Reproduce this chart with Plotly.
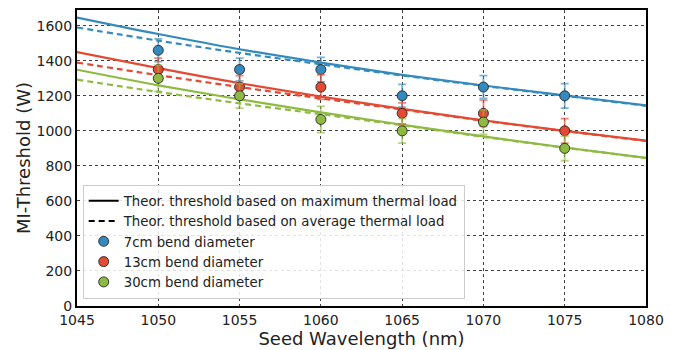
import plotly.graph_objects as go

# ---------------- data ----------------
wl_meas = [1050, 1055, 1060, 1065, 1070, 1075]
thr_7cm = [1460, 1350, 1350, 1200, 1250, 1200]
err_7cm = [65, 65, 70, 65, 65, 70]
thr_13cm = [1350, 1250, 1250, 1100, 1100, 1000]
err_13cm = [65, 65, 70, 60, 75, 70]
thr_30cm = [1300, 1200, 1065, 1000, 1050, 900]
err_30cm = [75, 70, 75, 70, 70, 70]

wl_theory = [1045, 1050, 1055, 1060, 1065, 1070, 1075, 1080]
max_7cm = [1647, 1553, 1466, 1390, 1320, 1259, 1202, 1145]
avg_7cm = [1590, 1515, 1445, 1380, 1316, 1257, 1200, 1143]
max_13cm = [1450, 1358, 1272, 1195, 1125, 1060, 1000, 944]
avg_13cm = [1390, 1318, 1250, 1185, 1122, 1058, 999, 942]
max_30cm = [1349, 1260, 1180, 1105, 1035, 968, 905, 846]
avg_30cm = [1292, 1222, 1157, 1095, 1032, 966, 904, 845]

x_ticks = [1045, 1050, 1055, 1060, 1065, 1070, 1075, 1080]
y_ticks = [0, 200, 400, 600, 800, 1000, 1200, 1400, 1600]

blue = "#348ABD"
red = "#E24A33"
green = "#8EBA42"

FONT = "DejaVu Sans"

fig = go.Figure()

# theory curves
for ys_max, ys_avg, c in [(max_7cm, avg_7cm, blue), (max_13cm, avg_13cm, red), (max_30cm, avg_30cm, green)]:
    fig.add_trace(go.Scatter(x=wl_theory, y=ys_max, mode="lines",
                             line=dict(color=c, width=2.2, shape="spline"),
                             showlegend=False, hoverinfo="skip"))
    fig.add_trace(go.Scatter(x=wl_theory, y=ys_avg, mode="lines",
                             line=dict(color=c, width=2.2, dash="6px,4px", shape="spline"),
                             showlegend=False, hoverinfo="skip"))

# legend-only entries for the theory line styles
fig.add_trace(go.Scatter(x=[None], y=[None], mode="lines",
                         line=dict(color="black", width=2),
                         name="Theor. threshold based on maximum thermal load"))
fig.add_trace(go.Scatter(x=[None], y=[None], mode="lines",
                         line=dict(color="black", width=2, dash="6px,4px"),
                         name="Theor. threshold based on average thermal load"))

# measurements
def rgba(hexc, a):
    h = hexc.lstrip("#")
    return "rgba(%d,%d,%d,%.2f)" % (int(h[0:2], 16), int(h[2:4], 16), int(h[4:6], 16), a)

for ys, es, c, name in [(thr_7cm, err_7cm, blue, "7cm bend diameter"),
                        (thr_13cm, err_13cm, red, "13cm bend diameter"),
                        (thr_30cm, err_30cm, green, "30cm bend diameter")]:
    fig.add_trace(go.Scatter(
        x=wl_meas, y=ys, mode="markers", name=name,
        marker=dict(color=c, size=10, line=dict(color="rgba(30,30,30,0.85)", width=1)),
        error_y=dict(type="data", array=es, visible=True, color=rgba(c, 0.65),
                     thickness=1.8, width=4),
    ))

fig.update_layout(
    width=678, height=350,
    margin=dict(l=77, r=32, t=8, b=44),
    paper_bgcolor="white", plot_bgcolor="white",
    font=dict(family=FONT, color="#222222"),
    legend=dict(
        x=0.01, y=0.025, xanchor="left", yanchor="bottom",
        bgcolor="rgba(255,255,255,0.85)", bordercolor="#cccccc", borderwidth=1,
        font=dict(family=FONT, size=13.3, color="#222222"),
        tracegroupgap=0, itemwidth=30,
    ),
)
fig.update_xaxes(
    range=[1045, 1080], tickvals=x_ticks, ticktext=[str(v) for v in x_ticks],
    showgrid=True, gridcolor="rgba(0,0,0,0.75)", griddash="dot", gridwidth=1,
    showline=True, linecolor="black", linewidth=2, mirror=True,
    zeroline=False, ticks="", tickfont=dict(family=FONT, size=14, color="#222222"),
    title=dict(text="Seed Wavelength (nm)", font=dict(family=FONT, size=18, color="#222222"), standoff=2),
)
fig.update_yaxes(
    range=[0, 1690], tickvals=y_ticks, ticktext=[str(v) for v in y_ticks],
    showgrid=True, gridcolor="rgba(0,0,0,0.75)", griddash="dot", gridwidth=1,
    showline=True, linecolor="black", linewidth=2, mirror=True,
    zeroline=False, ticks="", tickfont=dict(family=FONT, size=14, color="#222222"),
    title=dict(text="MI-Threshold (W)", font=dict(family=FONT, size=18, color="#222222"), standoff=1),
)

fig.write_html("out.html")
